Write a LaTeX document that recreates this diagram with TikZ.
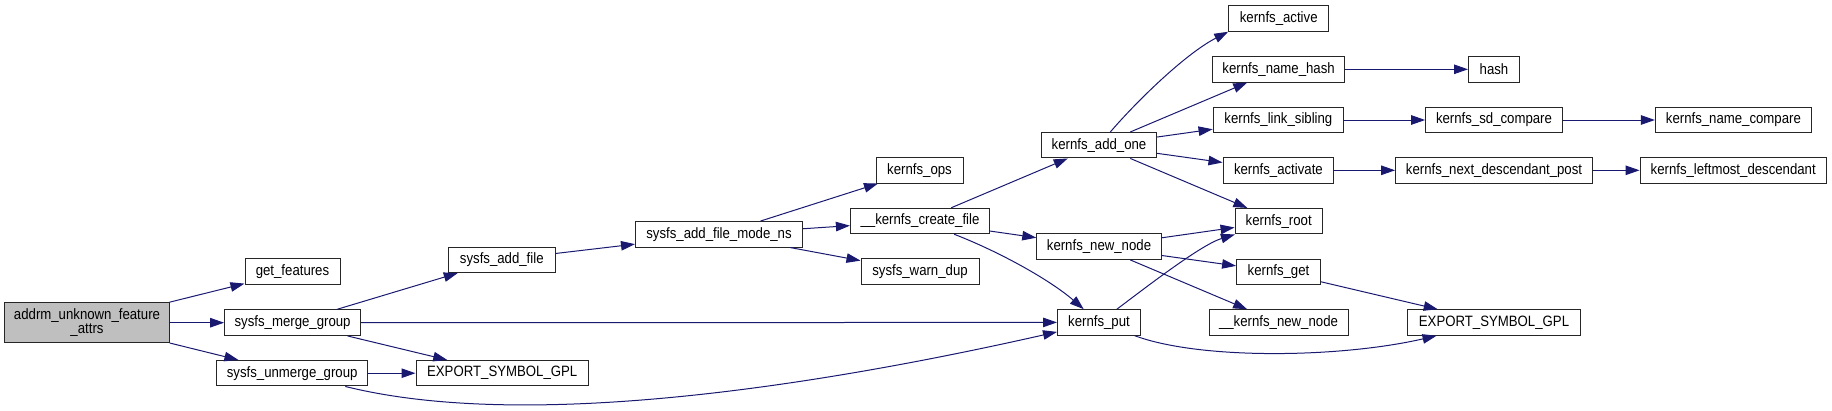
\documentclass[tikz,border=0pt]{standalone}
\usepackage{fontspec}
\setmainfont{Liberation Sans}[FakeStretch=0.88]
\usetikzlibrary{arrows.meta,calc}
\definecolor{edgeblue}{HTML}{191970}
\definecolor{rootgray}{HTML}{BFBFBF}
\begin{document}
\begin{tikzpicture}[x=1pt,y=-1pt,
  fn/.style={draw=black!85, line width=1pt, fill=white, minimum height=25.5pt, inner sep=0pt, font=\fontsize{15}{14}\selectfont, anchor=center},
  call/.style={draw=edgeblue, line width=1pt, -{Triangle[length=14pt,width=9.5pt]}}]
\useasboundingbox (0,0) rectangle (1832,410);
% nodes
\node[fn, fill=rootgray, minimum width=164.5pt, minimum height=40pt, align=center] (addrm) at (87,322.7) {addrm\_unknown\_feature\\\_attrs};
\node[fn, minimum width=95pt] (getf) at (292.5,271.7) {get\_features};
\node[fn, minimum width=136pt] (merge) at (292.6,322.7) {sysfs\_merge\_group};
\node[fn, minimum width=151pt] (unmerge) at (292.2,373.2) {sysfs\_unmerge\_group};
\node[fn, minimum width=107.5pt] (addfile) at (501.8,259.8) {sysfs\_add\_file};
\node[fn, minimum width=172.4pt] (exp1) at (502.2,373.2) {EXPORT\_SYMBOL\_GPL};
\node[fn, minimum width=167pt] (modens) at (719,234.3) {sysfs\_add\_file\_mode\_ns};
\node[fn, minimum width=87pt] (kops) at (919.5,170.3) {kernfs\_ops};
\node[fn, minimum width=139.2pt] (cfile) at (920,221) {\_\_kernfs\_create\_file};
\node[fn, minimum width=118pt] (warndup) at (920,271.7) {sysfs\_warn\_dup};
\node[fn, minimum width=115.4pt] (addone) at (1099,145.2) {kernfs\_add\_one};
\node[fn, minimum width=124.5pt] (newnode) at (1099,246.7) {kernfs\_new\_node};
\node[fn, minimum width=83pt] (kput) at (1099,322.4) {kernfs\_put};
\node[fn, minimum width=100pt] (kactive) at (1278.7,18.5) {kernfs\_active};
\node[fn, minimum width=132pt] (namehash) at (1278.6,69.3) {kernfs\_name\_hash};
\node[fn, minimum width=51pt] (hash) at (1494,69.3) {hash};
\node[fn, minimum width=130.7pt] (linksib) at (1278.4,120) {kernfs\_link\_sibling};
\node[fn, minimum width=136.7pt] (sdcmp) at (1494,120) {kernfs\_sd\_compare};
\node[fn, minimum width=156pt] (namecmp) at (1733.4,120) {kernfs\_name\_compare};
\node[fn, minimum width=110.8pt] (activate) at (1278.4,170.3) {kernfs\_activate};
\node[fn, minimum width=196.8pt] (nextdesc) at (1494,170.3) {kernfs\_next\_descendant\_post};
\node[fn, minimum width=186.3pt] (leftmost) at (1733.2,170.3) {kernfs\_leftmost\_descendant};
\node[fn, minimum width=87.3pt] (kroot) at (1278.7,221.2) {kernfs\_root};
\node[fn, minimum width=83.8pt] (kget) at (1278.5,271.8) {kernfs\_get};
\node[fn, minimum width=139pt] (unewnode) at (1278.5,322.5) {\_\_kernfs\_new\_node};
\node[fn, minimum width=172.3pt] (exp2) at (1494,322.5) {EXPORT\_SYMBOL\_GPL};
% edges
\draw[call] (addrm) -- (getf);
\draw[call] (addrm) -- (merge);
\draw[call] (addrm) -- (unmerge);
\draw[call] (merge) -- (addfile);
\draw[call] (merge) -- (kput);
\draw[call] (merge) -- (exp1);
\draw[call] (unmerge) -- (exp1);
\draw[call] (unmerge) .. controls (520,430) and (800,390) .. (kput);
\draw[call] (addfile) -- (modens);
\draw[call] (modens) -- (kops);
\draw[call] (modens) -- (cfile);
\draw[call] (modens) -- (warndup);
\draw[call] (cfile) -- (addone);
\draw[call] (cfile) -- (newnode);
\draw[call] (cfile) .. controls (1000,252) and (1050,280) .. (kput);
\draw[call] (addone) .. controls (1136,102) and (1185,54) .. (kactive.south west);
\draw[call] (addone) -- (namehash);
\draw[call] (addone) -- (linksib);
\draw[call] (addone) -- (activate);
\draw[call] (addone) -- (kroot);
\draw[call] (namehash) -- (hash);
\draw[call] (linksib) -- (sdcmp);
\draw[call] (sdcmp) -- (namecmp);
\draw[call] (activate) -- (nextdesc);
\draw[call] (nextdesc) -- (leftmost);
\draw[call] (newnode) -- (kroot);
\draw[call] (newnode) -- (kget);
\draw[call] (newnode) -- (unewnode);
\draw[call] (kput) .. controls (1140,292) and (1200,245) .. (kroot);
\draw[call] (kput) .. controls (1200,360) and (1340,358) .. (exp2);
\draw[call] (kget) -- (exp2);
\end{tikzpicture}
\end{document}
